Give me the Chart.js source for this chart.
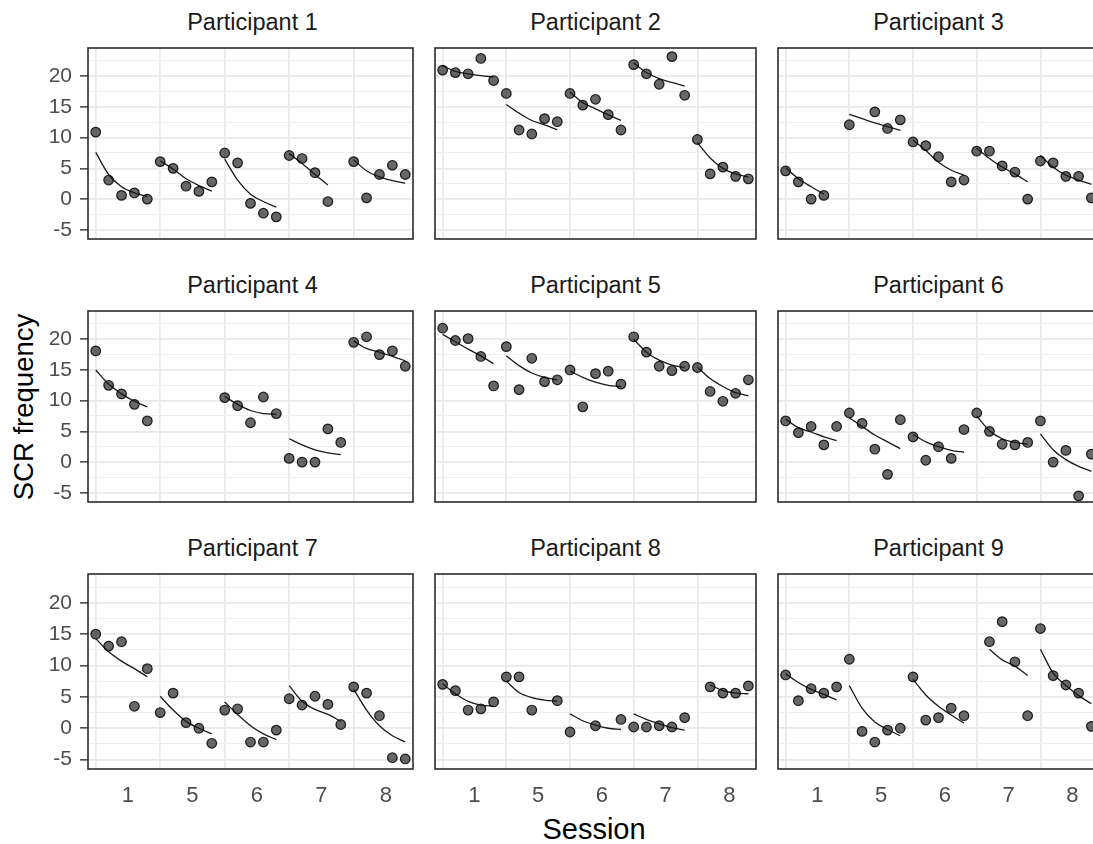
<!DOCTYPE html>
<html>
<head>
<meta charset="utf-8">
<title>SCR frequency by session</title>
<script src="https://cdn.jsdelivr.net/npm/chart.js@4.4.1/dist/chart.umd.min.js"></script>
<style>
  html, body { margin: 0; padding: 0; background: #ffffff; overflow: hidden; }
  #fig { position: relative; width: 1093px; height: 844px; overflow: hidden; background: #ffffff;
         font-family: "Liberation Sans", Arial, Helvetica, sans-serif; }
  #fig canvas { position: absolute; }
  .strip { position: absolute; font-size: 23.5px; line-height: 1; color: #1a1a1a; white-space: nowrap;
           transform: translateX(-50%); }
  .axis-title { position: absolute; font-size: 29px; line-height: 1; color: #000000; white-space: nowrap; }
  #xTitle { left: 594px; top: 829px; transform: translate(-50%, -50%); }
  #yTitle { left: 24px; top: 407px; transform: translate(-50%, -50%) rotate(-90deg); font-size: 27.5px; }
</style>
</head>
<body>
<div id="fig">
  <div class="axis-title" id="xTitle">Session</div>
  <div class="axis-title" id="yTitle">SCR frequency</div>
</div>
<script>
// ---- data: five trials per session, trial order 1..25 across the sessions ----
const sessions = ['1', '5', '6', '7', '8'];
const sessionStarts = [1, 6, 11, 16, 21];
const sessionCentres = [3.5, 8.5, 13.5, 18.5, 23.5];
const trialsPerSession = 5;

const yLabelValues = [-5, 0, 5, 10, 15, 20];
const yMinorValues = [-2.5, 2.5, 7.5, 12.5, 17.5, 22.5];

const participants = ['Participant 1', 'Participant 2', 'Participant 3',
                      'Participant 4', 'Participant 5', 'Participant 6',
                      'Participant 7', 'Participant 8', 'Participant 9'];

// observed SCR frequency per trial (null = no observation)
const scrP1 = [10.9, 3.1, 0.6, 1.0, 0.0,   6.1, 5.0, 2.1, 1.25, 2.8,   7.5, 5.9, -0.7, -2.3, -2.9,   7.1, 6.6, 4.3, -0.4, null,   6.1, 0.2, 4.0, 5.5, 4.0];
const scrP2 = [21.0, 20.6, 20.4, 22.9, 19.3,   17.2, 11.25, 10.6, 13.1, 12.6,   17.2, 15.3, 16.25, 13.75, 11.25,   21.9, 20.4, 18.7, 23.2, 16.9,   9.7, 4.1, 5.2, 3.7, 3.3];
const scrP3 = [4.6, 2.8, 0.0, 0.6, null,   12.1, null, 14.2, 11.5, 12.9,   9.3, 8.7, 6.9, 2.8, 3.1,   7.8, 7.8, 5.4, 4.4, 0.0,   6.2, 5.9, 3.7, 3.7, 0.2];
const scrP4 = [18.1, 12.5, 11.1, 9.4, 6.7,   null, null, null, null, null,   10.5, 9.2, 6.4, 10.6, 7.9,   0.6, 0.0, 0.0, 5.4, 3.2,   19.5, 20.4, 17.5, 18.1, 15.6];
const scrP5 = [21.8, 19.8, 20.1, 17.2, 12.4,   18.8, 11.8, 16.9, 13.1, 13.4,   15.0, 9.0, 14.4, 14.8, 12.7,   20.4, 17.9, 15.6, 14.9, 15.6,   15.4, 11.5, 9.9, 11.2, 13.4];
const scrP6 = [6.7, 4.8, 5.8, 2.8, 5.8,   8.0, 6.3, 2.1, -2.0, 6.9,   4.1, 0.3, 2.5, 0.6, 5.3,   8.0, 5.0, 2.9, 2.8, 3.2,   6.7, 0.0, 1.9, -5.5, 1.3];
const scrP7 = [15.0, 13.1, 13.8, 3.5, 9.5,   2.5, 5.6, 0.9, 0.0, -2.4,   2.9, 3.1, -2.2, -2.2, -0.3,   4.7, 3.7, 5.1, 3.8, 0.6,   6.6, 5.6, 2.0, -4.7, -4.9];
const scrP8 = [7.0, 6.0, 2.9, 3.1, 4.2,   8.2, 8.2, 2.9, null, 4.4,   -0.6, null, 0.4, null, 1.4,   0.2, 0.2, 0.4, 0.2, 1.7,   null, 6.6, 5.6, 5.6, 6.75];
const scrP9 = [8.5, 4.4, 6.3, 5.6, 6.6,   11.0, -0.5, -2.2, -0.3, 0.0,   8.2, 1.3, 1.7, 3.2, 2.0,   null, 13.8, 17.0, 10.6, 2.0,   15.9, 8.4, 6.9, 5.6, 0.3];

// fitted within-session decline per trial
const fitP1 = [7.6, 4.0, 2.0, 1.0, 0.4,   6.2, 4.9, 3.3, 2.2, 1.3,   6.5, 3.1, 0.8, -0.4, -1.3,   7.4, 5.8, 4.0, 2.3, null,   6.4, 4.6, 3.6, 3.0, 2.6];
const fitP2 = [21.7, 20.8, 20.4, 20.1, 19.9,   15.4, 14.0, 12.8, 12.1, 11.3,   17.4, 15.7, 14.7, 13.7, 12.8,   22.2, 20.6, 19.6, 19.0, 18.4,   9.2, 6.7, 5.0, 4.1, 3.6];
const fitP3 = [5.1, 3.3, 2.0, 0.8, null,   13.8, 13.1, 12.4, 11.8, 11.2,   9.6, 7.9, 6.0, 4.7, 3.9,   8.3, 6.6, 5.2, 4.1, 2.8,   7.1, 5.2, 3.9, 3.1, 2.4];
const fitP4 = [15.0, 12.7, 11.1, 9.9, 9.0,   null, null, null, null, null,   10.7, 9.4, 8.4, 7.9, 7.8,   3.8, 2.8, 2.0, 1.5, 1.2,   19.7, 18.5, 17.9, 17.2, 16.5];
const fitP5 = [20.8, 19.6, 18.4, 17.3, 16.0,   17.3, 15.7, 14.5, 13.8, 13.4,   14.8, 13.8, 13.0, 12.5, 12.3,   20.0, 17.9, 16.6, 15.8, 15.4,   15.5, 13.6, 12.3, 11.3, 10.8];
const fitP6 = [7.0, 5.6, 4.9, 4.1, 3.5,   7.2, 5.8, 4.4, 3.3, 2.2,   4.5, 3.3, 2.5, 1.9, 1.6,   7.5, 5.1, 3.8, 3.2, 2.9,   4.6, 2.0, 0.4, -0.7, -1.5];
const fitP7 = [14.3, 12.2, 10.7, 9.5, 8.2,   5.1, 2.9, 1.1, 0.0, -0.9,   4.2, 2.2, 0.4, -0.9, -1.8,   6.8, 4.3, 3.0, 2.2, 1.1,   6.2, 2.9, 0.4, -1.2, -2.2];
const fitP8 = [7.1, 5.5, 4.3, 3.7, 3.5,   7.5, 5.7, 4.9, 4.5, 4.3,   2.3, 1.2, 0.5, 0.0, -0.2,   2.3, 1.4, 0.7, 0.1, -0.3,   null, 6.9, 6.0, 5.6, 5.5];
const fitP9 = [8.7, 7.3, 6.2, 5.4, 4.5,   6.8, 3.2, 1.0, -0.2, -1.2,   7.8, 5.3, 3.5, 2.1, 0.8,   null, 12.6, 10.9, 9.9, 8.4,   12.6, 8.8, 6.8, 5.2, 3.9];

const scrSeries = [scrP1, scrP2, scrP3, scrP4, scrP5, scrP6, scrP7, scrP8, scrP9];
const fitSeries = [fitP1, fitP2, fitP3, fitP4, fitP5, fitP6, fitP7, fitP8, fitP9];

// ---- facet layout ----
const FONT = '"Liberation Sans", Arial, Helvetica, sans-serif';
const COL_LEFT = [88, 431, 774];
const ROW_TOP = [44, 307, 570];
const PANEL_W = 329;
const PANEL_H = 199;
const PAD = 2;
const X_RANGE = [0.4, 25.6];
const Y_RANGE = [-6.5, 24.6];

const xTickValues = sessionStarts.concat(sessionCentres).sort((a, b) => a - b);
const yTickValues = yLabelValues.concat(yMinorValues).sort((a, b) => a - b);

function pointData(values) {
  const out = [];
  values.forEach((v, i) => { if (v !== null) out.push({ x: i + 1, y: v }); });
  return out;
}

// one curve per session, separated by gaps
function curveData(values) {
  const out = [];
  for (let s = 0; s < sessions.length; s++) {
    for (let k = 0; k < trialsPerSession; k++) {
      const i = s * trialsPerSession + k;
      out.push({ x: i + 1, y: values[i] });
    }
    out.push({ x: (s + 1) * trialsPerSession + 0.5, y: null });
  }
  return out;
}

const panelFrame = {
  id: 'panelFrame',
  afterDraw(chart) {
    const { ctx, chartArea: a } = chart;
    ctx.save();
    ctx.strokeStyle = '#2b2b2b';
    ctx.lineWidth = 1.6;
    ctx.strokeRect(a.left, a.top, a.right - a.left, a.bottom - a.top);
    ctx.restore();
  }
};

const fig = document.getElementById('fig');

participants.forEach((name, idx) => {
  const row = Math.floor(idx / 3);
  const col = idx % 3;
  const leftAxis = col === 0;
  const bottomAxis = row === 2;
  const yW = leftAxis ? 88 : 0;
  const xH = bottomAxis ? 48 : 0;

  // strip label
  const strip = document.createElement('div');
  strip.className = 'strip';
  strip.textContent = name;
  strip.style.left = (COL_LEFT[col] + PANEL_W / 2) + 'px';
  strip.style.top = (ROW_TOP[row] - 33.2) + 'px';
  fig.appendChild(strip);

  const canvas = document.createElement('canvas');
  const W = PAD + yW + PANEL_W + PAD;
  const H = PAD + PANEL_H + xH + PAD;
  canvas.width = W; canvas.height = H;
  canvas.style.width = W + 'px'; canvas.style.height = H + 'px';
  canvas.style.left = (COL_LEFT[col] - yW - PAD) + 'px';
  canvas.style.top = (ROW_TOP[row] - PAD) + 'px';
  fig.appendChild(canvas);

  new Chart(canvas, {
    type: 'scatter',
    data: {
      datasets: [
        {
          label: 'SCR',
          data: pointData(scrSeries[idx]),
          pointRadius: 4.8,
          pointHoverRadius: 4.8,
          pointBackgroundColor: 'rgba(25,25,25,0.66)',
          pointBorderColor: 'rgba(0,0,0,0.85)',
          pointBorderWidth: 1.2
        },
        {
          label: 'Fit',
          data: curveData(fitSeries[idx]),
          showLine: true,
          spanGaps: false,
          cubicInterpolationMode: 'monotone',
          borderColor: '#1a1a1a',
          borderWidth: 1.3,
          pointRadius: 0,
          pointHoverRadius: 0
        }
      ]
    },
    options: {
      responsive: false,
      animation: false,
      devicePixelRatio: 1,
      events: [],
      layout: { padding: { left: PAD, right: PAD, top: PAD, bottom: PAD } },
      plugins: { legend: { display: false }, title: { display: false }, tooltip: { enabled: false } },
      scales: {
        x: {
          type: 'linear',
          min: X_RANGE[0], max: X_RANGE[1],
          bounds: 'data',
          afterBuildTicks: s => { s.ticks = xTickValues.map(v => ({ value: v })); },
          afterFit: s => { s.height = xH; s.paddingLeft = 0; s.paddingRight = 0; },
          border: { display: false },
          grid: {
            drawTicks: false,
            color: c => (c.tick && sessionStarts.includes(c.tick.value)) ? '#e9e9e9' : 'rgba(0,0,0,0)',
            lineWidth: 1.7
          },
          ticks: {
            display: bottomAxis,
            autoSkip: false,
            maxRotation: 0, minRotation: 0,
            padding: 14,
            color: '#4d4d4d',
            font: { family: FONT, size: 22 },
            callback: v => { const k = sessionCentres.indexOf(v); return k >= 0 ? sessions[k] : ''; }
          }
        },
        y: {
          type: 'linear',
          min: Y_RANGE[0], max: Y_RANGE[1],
          bounds: 'data',
          afterBuildTicks: s => { s.ticks = yTickValues.map(v => ({ value: v })); },
          afterFit: s => { s.width = yW; s.paddingTop = 0; s.paddingBottom = 0; },
          border: { display: false },
          grid: {
            drawTicks: leftAxis,
            tickLength: 8,
            color: c => (c.tick && yLabelValues.includes(c.tick.value)) ? '#e9e9e9' : '#efefef',
            lineWidth: c => (c.tick && yLabelValues.includes(c.tick.value)) ? 1.7 : 1.1,
            tickColor: c => (c.tick && yLabelValues.includes(c.tick.value)) ? '#333333' : 'rgba(0,0,0,0)',
            tickWidth: 1.4
          },
          ticks: {
            display: leftAxis,
            autoSkip: false,
            padding: 8,
            color: '#4d4d4d',
            font: { family: FONT, size: 21 },
            callback: v => yLabelValues.includes(v) ? String(v) : ''
          }
        }
      }
    },
    plugins: [panelFrame]
  });
});
</script>
</body>
</html>
